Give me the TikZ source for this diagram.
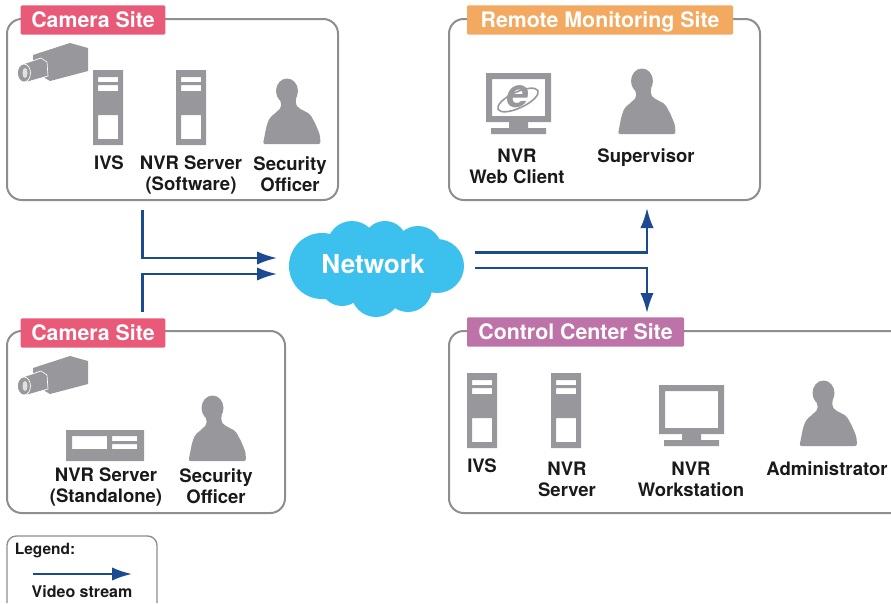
\documentclass[tikz,border=0pt]{standalone}
\usepackage{fontspec}
\setmainfont{TeX Gyre Heros}
\usetikzlibrary{arrows.meta}
\definecolor{icongray}{HTML}{98989C}
\definecolor{boxgray}{HTML}{8E8E8E}
\definecolor{inkblack}{HTML}{1A1A1A}
\definecolor{camerapink}{HTML}{E85A78}
\definecolor{remoteorange}{HTML}{F3A95F}
\definecolor{controlpurple}{HTML}{BD72A8}
\definecolor{cloudblue}{HTML}{3CC0EE}
\definecolor{streamblue}{HTML}{1B4A90}
\tikzset{
  sitebox/.style={draw=boxgray, line width=1.5pt, rounded corners=11pt},
  sitelabel/.style={fill=#1, text=white, font=\bfseries\fontsize{16}{18}\selectfont, rounded corners=1pt, inner sep=0pt, minimum height=22pt, text height=11.6pt, text depth=0pt},
  caption/.style={text=inkblack, font=\bfseries\fontsize{13.9}{15.75}\selectfont, align=center, inner sep=0pt},
  stream/.style={draw=streamblue, line width=1.7pt, -{Latex[length=15pt,width=10pt]}},
  icon/.style={fill=icongray, even odd rule},
  tower/.pic={
    \fill[icon] (0,0) rectangle (30,75) (5,7) rectangle (25,12) (5,15) rectangle (25,21) (5,45) rectangle (25,69);
  },
  monitor/.pic={
    \fill[icon] (0,0) rectangle (65,49) (6,6) rectangle (59,43);
    \fill[icon] (23,49) rectangle (42,55) (5,55) rectangle (60,61);
  },
  recorder/.pic={
    \fill[icon] (0,0) rectangle (78,31) (6,6) rectangle (41,19) (46,6) rectangle (71,11) (46,14) rectangle (71,19);
  },
  person/.pic={
    \fill[icongray] (-4.5,-53) ellipse [x radius=11, y radius=12.5];
    \fill[icongray, rounded corners=1.5pt] (-12,-48) -- (-10,-37) -- (-15,-32) -- (-22,-26) -- (-25,-18) -- (-28.5,0) -- (29,0) -- (28.5,-9) -- (24,-20) -- (18.5,-30) -- (7,-36) -- (4,-40) -- (5,-48) -- cycle;
  },
  camera/.pic={
    \fill[icongray] (16,12) -- (53,0) -- (71,5) -- (71,28) -- (33,38) -- (28,35) -- (28,19) -- (16,17) -- cycle;
    \fill[icongray, draw=white, line width=0.5pt] (6,21) -- (24,15) -- (30,19) -- (31,33) -- (10,39) -- cycle;
    \fill[icongray, draw=white, line width=0.5pt] (7,30) ellipse [x radius=6.5, y radius=9];
    \fill[white!70!icongray] (8,30) ellipse [x radius=2.5, y radius=5];
  },
}
\begin{document}
\begin{tikzpicture}[x=0.75pt, y=-0.75pt]
\useasboundingbox (0,0) rectangle (891,603);

\draw [sitebox] (7,19) rectangle (338,200);
\draw [sitebox] (449,19) rectangle (760,200);
\draw [sitebox] (7,331) rectangle (285,513);
\draw [sitebox] (891,331) -- (449,331) -- (449,513) -- (891,513);
\draw [sitebox, line width=1pt, rounded corners=7pt] (7,603) -- (7,536) -- (157,536) -- (157,603);

\node [sitelabel=camerapink, minimum width=108.5pt] (camtop) at (93,20) {Camera Site};
\node [sitelabel=remoteorange, minimum width=199.5pt] (remote) at (600,20) {Remote Monitoring Site};
\node [sitelabel=camerapink, minimum width=108.5pt] (cambot) at (93,333) {Camera Site};
\node [sitelabel=controlpurple, minimum width=162.75pt] (control) at (575.5,332) {Control Center Site};

\pic (camtopicon) at (17,43) {camera};
\pic (ivstop) at (93,70) {tower};
\pic (nvrtop) at (176,70) {tower};
\pic (officertop) at (291.5,144) {person};
\node [caption] (ivstoptext) at (109,163) {IVS};
\node [caption] (nvrtoptext) at (191,175) {NVR Server\\(Software)};
\node [caption] (officertoptext) at (290,174.5) {Security\\Officer};

\pic (webclient) at (486,73) {monitor};
\draw [icongray, line width=1.2pt] (518,100) ellipse [x radius=22, y radius=8, rotate=25];
\node [text=icongray, font=\bfseries\itshape\fontsize{30}{30}\selectfont, inner sep=0pt] (ielogo) at (518,97) {e};
\pic (supervisor) at (646.5,134) {person};
\node [caption] (webclienttext) at (517,166.5) {NVR\\Web Client};
\node [caption] (supervisortext) at (646,158) {Supervisor};

\pic (cambotcon) at (17,356) {camera};
\pic (nvrbot) at (66,430) {recorder};
\pic (officerbot) at (217,461) {person};
\node [caption] (nvrbottext) at (106,487) {NVR Server\\(Standalone)};
\node [caption] (officerbottext) at (216,486) {Security\\Officer};

\pic (ivsctl) at (467,373) {tower};
\pic (nvrctl) at (551,373) {tower};
\pic (workstation) at (659,385) {monitor};
\pic (administrator) at (828,446) {person};
\node [caption] (ivsctltext) at (482,466) {IVS};
\node [caption] (nvrctltext) at (567,479) {NVR\\Server};
\node [caption] (workstationtext) at (691,479) {NVR\\Workstation};
\node [caption] (administratortext) at (827,469) {Administrator};

\foreach \cx/\cy/\cr in {322/266/33, 352/246/25, 385/243/22, 418/250/24, 437/266/27, 408/288/24, 376/292/25, 342/284/22, 375/268/38}
  \fill [cloudblue] (\cx,\cy) circle [radius=\cr];
\node [text=white, font=\bfseries\fontsize{19.6}{22}\selectfont, inner sep=0pt] (network) at (373,264) {Network};

\coordinate (intop) at (142.5,210);
\coordinate (intopend) at (277,258);
\coordinate (inbot) at (142.5,312);
\coordinate (inbotend) at (277,274);
\coordinate (outtop) at (475,252.5);
\coordinate (outtopend) at (647,208);
\coordinate (outbot) at (475,268);
\coordinate (outbotend) at (647,313);
\draw [stream] (intop) |- (intopend);
\draw [stream] (inbot) |- (inbotend);
\draw [stream] (outtop) -| (outtopend);
\draw [stream] (outbot) -| (outbotend);

\node [caption, font=\bfseries\fontsize{11.6}{14}\selectfont] (legend) at (45,551) {Legend:};
\coordinate (legendstart) at (33,574);
\coordinate (legendend) at (132,574);
\draw [stream] (legendstart) -- (legendend);
\node [caption, font=\bfseries\fontsize{12}{14}\selectfont] (legendtext) at (82,592) {Video stream};
\end{tikzpicture}
\end{document}
